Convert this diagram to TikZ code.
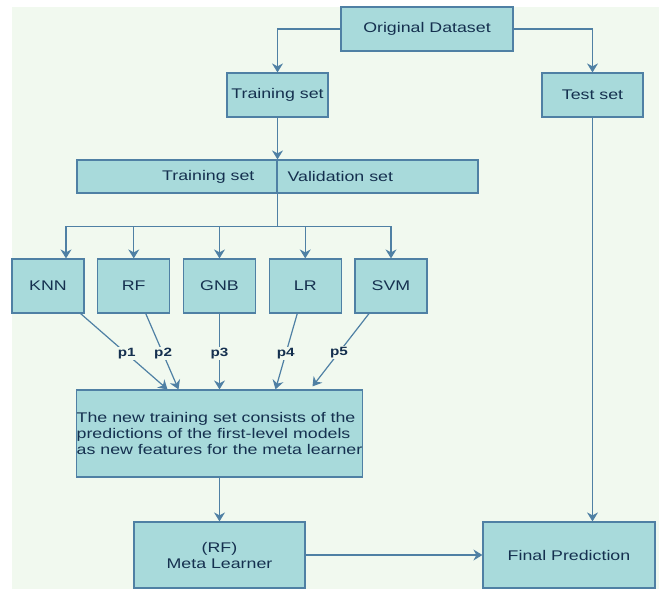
\documentclass[tikz,border=0pt]{standalone}
\usepackage{fontspec}
\setmainfont{Liberation Sans}[FakeStretch=1.27]
\usetikzlibrary{arrows.meta,positioning}
\definecolor{bgcol}{HTML}{F1F9EF}
\definecolor{boxcol}{HTML}{A8DADB}
\definecolor{linecol}{HTML}{4F80A4}
\definecolor{txtcol}{HTML}{15304F}

\begin{document}
\begin{tikzpicture}[
                            x=1pt, y=-1pt,
                            node distance=85.75pt,
                            >={Stealth[length=9pt,width=11pt,inset=3pt]},
                            box/.style={draw=linecol, fill=boxcol, line width=1.2pt, rectangle, text=txtcol, font=\fontsize{14}{16}\selectfont, inner sep=0pt, align=center},
                            model/.style={box, minimum width=72pt, minimum height=54pt},
                            txt/.style={text=txtcol, font=\fontsize{14}{16}\selectfont, inner sep=0pt},
                            link/.style={draw=linecol, line width=1.2pt},
                            plabel/.style={fill=bgcol, text=txtcol, font=\fontsize{12}{14}\selectfont\bfseries, inner sep=1pt}
                            ]

                            \useasboundingbox (0,0) rectangle (659,589);
                            \fill[bgcol] (12,7) rectangle (659,589);

                            \node [box, minimum width=172pt, minimum height=44pt] (orig) at (427,29) {Original Dataset};
                            \node [box, minimum width=101pt, minimum height=44pt] (train) at (277.5,95) {Training set};
                            \node [box, minimum width=101pt, minimum height=44pt] (test) at (592.5,95) {Test set};

                            % split of the training set
                            \node [box, minimum width=200pt, minimum height=33pt] (trpart) at (177,176.5) {};
                            \node [box, minimum width=201pt, minimum height=33pt] (valpart) at (377.5,176.5) {};
                            \node [txt, anchor=east] (trtxt) at ([xshift=-23pt]trpart.east) {Training set};
                            \node [txt, anchor=west] (valtxt) at ([xshift=11pt]valpart.west) {Validation set};
                            \coordinate [below=33pt of trpart.south east] (hub);

                            % first-level models
                            \node [model] (knn) at (48,286) {KNN};
                            \node [model, right of = knn] (rf) {RF};
                            \node [model, right of = rf] (gnb) {GNB};
                            \node [model, right of = gnb] (lr) {LR};
                            \node [model, right of = lr] (svm) {SVM};

                            \node [box, minimum width=285pt, minimum height=87pt, align=left] (newset) at (219.5,433.5) {The new training set consists of the\\predictions of the first-level models\\as new features for the meta learner};
                            \node [box, minimum width=171pt, minimum height=66pt] (meta) at (219.5,555) {(RF)\\Meta Learner};
                            \node [box, minimum width=172pt, minimum height=66pt] (final) at (569,555) {Final Prediction};

                            \draw[link,->] (orig.west) -| (train.north);
                            \draw[link,->] (orig.east) -| (test.north);
                            \draw[link,->] (train.south) -- (train.south |- trpart.north);
                            \draw[link] (trpart.south east) -- (hub);
                            \draw[link,->] (hub) -| ([xshift=18pt]knn.north);
                            \foreach \m in {rf,gnb,lr,svm}
                                \draw[link,->] (hub) -| (\m.north);

                            \draw[link,->] ([xshift=-4pt]knn.south east) -- node[plabel,pos=0.53]{p1} ([xshift=-52pt]newset.north);
                            \draw[link,->] ([xshift=12pt]rf.south) -- node[plabel,pos=0.53]{p2} ([xshift=-41pt]newset.north);
                            \draw[link,->] (gnb.south) -- node[plabel,pos=0.53]{p3} (gnb.south |- newset.north);
                            \draw[link,->] ([xshift=-8pt]lr.south) -- node[plabel,pos=0.53]{p4} ([xshift=56pt]newset.north);
                            \draw[link,->] ([xshift=-22pt]svm.south) -- node[plabel,pos=0.53]{p5} ([xshift=93pt,yshift=3pt]newset.north);

                            \draw[link,->] (newset.south) -- (meta.north);
                            \draw[link,->] (meta.east) -- (final.west);
                            \draw[link,->] (test.south) -- (test.south |- final.north);
                        \end{tikzpicture}
\end{document}
